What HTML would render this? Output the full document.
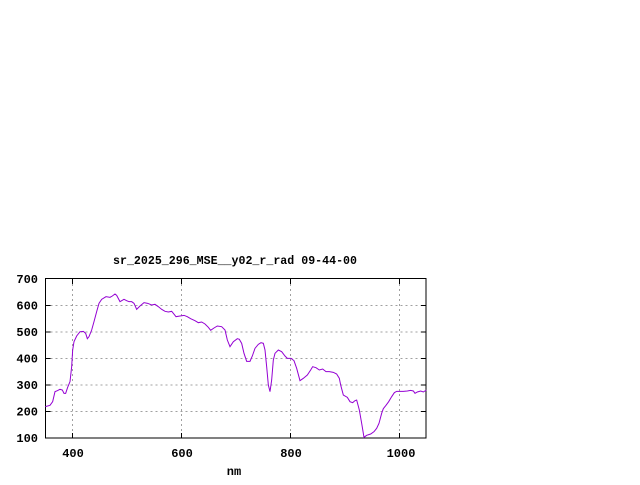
<!DOCTYPE html>
<html><head><meta charset="utf-8"><style>html,body{margin:0;padding:0;background:#fff}</style></head><body>
<svg width="640" height="480" viewBox="0 0 640 480" xmlns="http://www.w3.org/2000/svg" font-family="Liberation Mono, monospace" font-size="12" font-weight="bold">
<rect width="640" height="480" fill="#fff"/>
<g stroke="#a0a0a0" stroke-width="1" stroke-dasharray="2,3">
<line x1="45.5" x2="426" y1="305.5" y2="305.5"/><line x1="45.5" x2="426" y1="332" y2="332"/><line x1="45.5" x2="426" y1="358.5" y2="358.5"/><line x1="45.5" x2="426" y1="385" y2="385"/><line x1="45.5" x2="426" y1="411.5" y2="411.5"/>
<line x1="72.5" x2="72.5" y1="279" y2="438"/><line x1="181.5" x2="181.5" y1="279" y2="438"/><line x1="290.5" x2="290.5" y1="279" y2="438"/><line x1="399.5" x2="399.5" y1="279" y2="438"/>
</g>
<g stroke="#000" stroke-width="1">
<rect x="45.5" y="278.5" width="380.5" height="159.5" fill="none"/>
<path d="M45.5 305.5h5M45.5 332h5M45.5 358.5h5M45.5 385h5M45.5 411.5h5M426 305.5h-5M426 332h-5M426 358.5h-5M426 385h-5M426 411.5h-5M72.5 438v-5M181.5 438v-5M290.5 438v-5M399.5 438v-5M72.5 279v5M181.5 279v5M290.5 279v5M399.5 279v5"/>
</g>
<g text-anchor="end">
<text x="38" y="283">700</text><text x="38" y="309.5">600</text><text x="38" y="336">500</text><text x="38" y="362.5">400</text><text x="38" y="389">300</text><text x="38" y="415.5">200</text><text x="38" y="442">100</text>
</g>
<g text-anchor="middle">
<text x="73" y="457">400</text><text x="182" y="457">600</text><text x="291" y="457">800</text><text x="401" y="457">1000</text>
<text x="234" y="475">nm</text>
</g>
<text x="113" y="264" textLength="244" lengthAdjust="spacingAndGlyphs">sr_2025_296_MSE__y02_r_rad 09-44-00</text>
<g transform="translate(0,250) scale(0.33333)">
<polyline fill="none" stroke="#9400d3" stroke-width="3" points="136,470 150,466 158,455 165,425 172,422 180,418 187,420 192,430 197,430 203,412 210,395 215,350 218,300 222,275 230,258 240,245 250,244 257,250 262,266 267,260 275,240 282,215 290,185 297,160 305,148 318,140 330,142 337,138 345,132 350,136 360,155 365,152 372,148 380,152 387,155 395,155 402,160 410,178 420,168 432,158 443,160 455,165 465,163 475,170 485,178 495,184 505,186 515,184 520,190 528,200 540,198 552,196 562,200 572,206 585,212 595,218 605,216 615,222 625,232 632,241 642,234 652,228 665,230 675,240 682,270 690,290 700,275 712,266 718,268 725,280 732,310 740,334 750,334 757,318 765,295 775,283 783,278 790,280 795,300 800,350 805,405 810,425 815,390 820,330 825,310 835,300 845,305 855,318 862,325 873,325 882,332 890,355 900,392 910,385 922,375 932,360 938,350 948,353 958,360 968,357 978,365 988,365 1000,367 1010,372 1018,385 1022,405 1030,435 1042,442 1050,455 1058,458 1065,452 1070,450 1078,480 1085,520 1092,562 1100,556 1112,552 1122,545 1130,535 1137,520 1145,490 1150,476 1158,466 1166,455 1175,440 1183,428 1190,424 1200,424 1210,424 1222,423 1232,421 1240,423 1245,430 1252,426 1262,423 1270,426 1279,420"/>
</g>
</svg>
</body></html>
